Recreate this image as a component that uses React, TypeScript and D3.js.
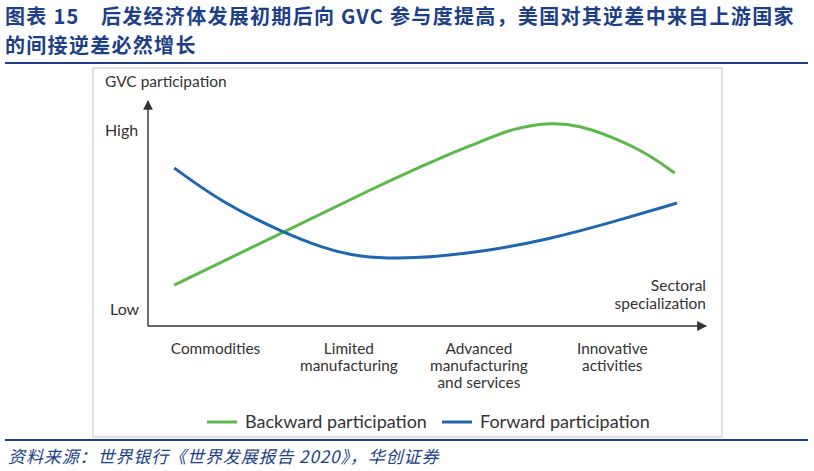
import * as d3 from 'd3';

// Stylised GVC chart: x = sectoral specialization (0-100), y = GVC participation (0-100)
const backwardX = [4.7, 24.0, 41.6, 47.5, 53.6, 59.5, 65.4, 72.6, 77.4, 83.3, 89.4, 94.4];
const backwardY = [18.1, 41.2, 62.4, 69.0, 75.7, 81.4, 87.6, 90.2, 88.6, 83.6, 76.5, 67.7];

const forwardX = [4.7, 13.4, 24.0, 31.4, 37.5, 47.5, 59.5, 71.5, 83.3, 94.8];
const forwardY = [69.9, 54.4, 41.6, 34.5, 30.5, 29.6, 32.7, 38.1, 46.0, 54.4];

const categories = [
  ['Commodities'],
  ['Limited', 'manufacturing'],
  ['Advanced', 'manufacturing', 'and services'],
  ['Innovative', 'activities'],
];
const categoryPos = [12.1, 36.0, 59.3, 83.2];

const seriesNames = ['Backward participation', 'Forward participation'];
const seriesColors = ['#5cb84a', '#1f66ae'];

const titleLines = [
  '图表 15　后发经济体发展初期后向 GVC 参与度提高，美国对其逆差中来自上游国家',
  '的间接逆差必然增长',
];
const sourceText = '资料来源：世界银行《世界发展报告 2020》，华创证券';

export default function App() {
  const W = 814;
  const H = 471;
  const x = d3.scaleLinear().domain([0, 100]).range([148, 706]);
  const y = d3.scaleLinear().domain([0, 100]).range([326, 100]);

  const line = d3
    .line<[number, number]>()
    .x((d) => x(d[0]))
    .y((d) => y(d[1]))
    .curve(d3.curveBasis);

  const backward = backwardX.map((v, i) => [v, backwardY[i]] as [number, number]);
  const forward = forwardX.map((v, i) => [v, forwardY[i]] as [number, number]);

  const font = "'Lato', 'Open Sans', sans-serif";
  const cjk = "'Noto Sans CJK SC', sans-serif";
  const navy = '#1c3f87';
  const grey = '#333';

  return (
    <svg width={W} height={H} style={{ position: 'absolute', left: 0, top: 0 }}>
      <defs>
        <marker id="arrow" viewBox="0 0 10 10" refX="9" refY="5" markerWidth="7" markerHeight="7" orient="auto">
          <path d="M0,0 L10,5 L0,10 z" fill={grey} />
        </marker>
      </defs>
      <rect width={W} height={H} fill="#fff" />

      {/* title */}
      {titleLines.map((t, i) => (
        <text key={i} x={5} y={24 + i * 29} fontFamily={cjk} fontWeight={700} fontSize={20} letterSpacing={1.3} fill={navy}>
          {t}
        </text>
      ))}
      <line x1={5} x2={808} y1={63} y2={63} stroke={navy} strokeWidth={2} />

      {/* chart frame */}
      <rect x={93} y={68} width={629} height={369} fill="#fff" stroke="#cfcfcf" strokeWidth={1.2} />

      {/* axes */}
      <line x1={x(0)} x2={x(0)} y1={y(0)} y2={y(100) + 1} stroke={grey} strokeWidth={1.4} markerEnd="url(#arrow)" />
      <line x1={x(0)} x2={x(100)} y1={y(0)} y2={y(0)} stroke={grey} strokeWidth={1.4} markerEnd="url(#arrow)" />

      <text x={105} y={87} fontFamily={font} fontSize={15.5} fill={grey}>GVC participation</text>
      <text x={105} y={136} fontFamily={font} fontSize={16} fill={grey}>High</text>
      <text x={110} y={315} fontFamily={font} fontSize={16} fill={grey}>Low</text>
      <text x={x(100)} y={291} textAnchor="end" fontFamily={font} fontSize={15.5} fill={grey}>Sectoral</text>
      <text x={x(100)} y={309} textAnchor="end" fontFamily={font} fontSize={15.5} fill={grey}>specialization</text>

      {/* curves */}
      <path d={line(backward) || ''} fill="none" stroke={seriesColors[0]} strokeWidth={3} />
      <path d={line(forward) || ''} fill="none" stroke={seriesColors[1]} strokeWidth={3} />

      {/* category labels */}
      {categories.map((lines, i) => (
        <text key={i} textAnchor="middle" fontFamily={font} fontSize={15.4} fill={grey}>
          {lines.map((l, j) => (
            <tspan key={j} x={x(categoryPos[i])} y={354 + j * 17}>{l}</tspan>
          ))}
        </text>
      ))}

      {/* legend */}
      {seriesNames.map((name, i) => {
        const lx = i === 0 ? 207 : 442;
        return (
          <g key={name}>
            <line x1={lx} x2={lx + 30} y1={422} y2={422} stroke={seriesColors[i]} strokeWidth={3} />
            <text x={lx + 38} y={428} fontFamily={font} fontSize={18} fill={grey}>{name}</text>
          </g>
        );
      })}

      <line x1={5} x2={808} y1={440} y2={440} stroke={navy} strokeWidth={2} />
      <text x={8} y={463} fontFamily={cjk} fontStyle="italic" fontSize={17} letterSpacing={0.9} fill={navy}>{sourceText}</text>
    </svg>
  );
}
